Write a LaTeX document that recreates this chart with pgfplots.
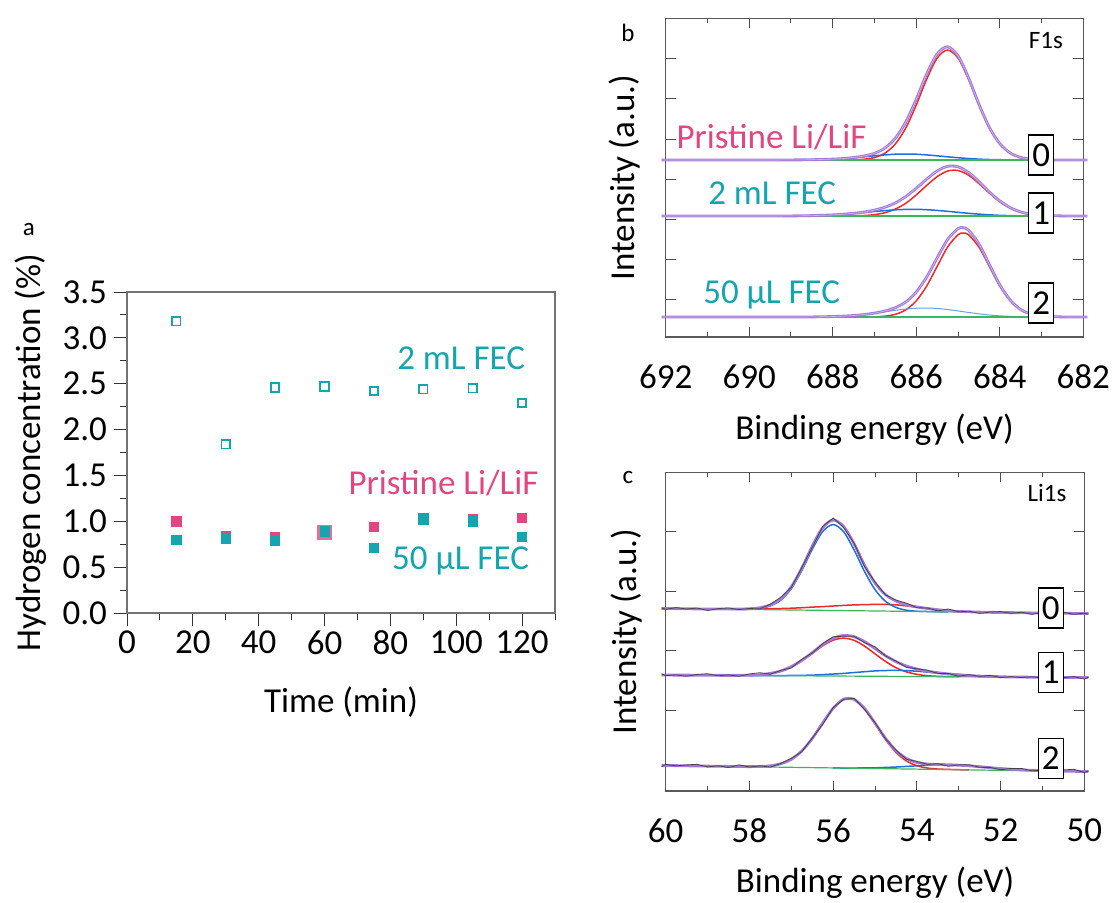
\documentclass[border=0pt]{standalone}
\usepackage{fontspec}
\setmainfont{Carlito}
\usepackage{pgfplots}
\pgfplotsset{compat=1.18}
\definecolor{tealc}{RGB}{20,165,175}
\definecolor{pinkc}{RGB}{225,70,130}
\definecolor{purp}{RGB}{165,120,215}
\definecolor{purcore}{RGB}{205,190,230}
\definecolor{redc}{RGB}{240,40,40}
\definecolor{bluec}{RGB}{30,110,220}
\definecolor{lblue}{RGB}{100,160,235}
\definecolor{greenc}{RGB}{60,180,100}
\definecolor{datac}{RGB}{70,70,70}
\newcommand{\mainfs}{\fontsize{17.5}{21}\selectfont}
\newcommand{\smallfs}{\fontsize{12.5}{15}\selectfont}
\pgfplotsset{
  every tick label/.append style={font=\mainfs},
  every axis label/.append style={font=\mainfs},
  /pgf/number format/assume math mode=true,
  xps/.style={scale only axis, x dir=reverse, tick align=inside, clip=false,
    axis line style={black!65, line width=0.6pt},
    tick style={black!70, line width=0.5pt},
    major tick length=5pt, minor tick length=2.5pt,
    yticklabels={}, xticklabel style={yshift=-8pt},
    xlabel={Binding energy (eV)}, ylabel={Intensity (a.u.)}},
}
\tikzset{boxn/.style={draw=black, line width=0.6pt, fill=white, minimum width=12.5pt, minimum height=20pt, inner sep=0pt, font=\mainfs}}
\begin{document}
\mainfs
\begin{tikzpicture}
\path[use as bounding box] (0pt,0pt) rectangle (556pt,-451pt);
% ---------------- panel a ----------------
\begin{axis}[at={(63.5pt,-306.5pt)}, anchor=south west, scale only axis,
  width=214pt, height=160.5pt,
  xmin=0, xmax=130, ymin=0, ymax=3.5,
  xtick={0,20,40,60,80,100,120}, minor xtick={10,30,50,70,90,110,130},
  ytick={0,0.5,1,1.5,2,2.5,3,3.5}, minor ytick={0.25,0.75,1.25,1.75,2.25,2.75,3.25},
  tick align=outside, tick pos=left,
  major tick length=6.5pt, minor tick length=3.3pt,
  axis line style={black!55, line width=0.6pt},
  tick style={black!80, line width=0.5pt},
  xticklabel style={yshift=3.5pt},
  yticklabel style={xshift=2.5pt, /pgf/number format/fixed, /pgf/number format/fixed zerofill, /pgf/number format/precision=1},
  xlabel={Time (min)}, ylabel={Hydrogen concentration (\%)},
  xlabel style={at={(axis description cs:0.5,-0.277)}, anchor=center},
  ylabel style={at={(axis description cs:-0.225,0.5)}, anchor=center},
  clip=false]
\addplot[only marks, mark=square*, mark size=2.3pt, color=pinkc] coordinates {(15,1.00)(30,0.84)(45,0.83)(75,0.94)(90,1.04)(105,1.03)(120,1.04)};
\addplot[only marks, mark=square*, mark size=3.5pt, color=pinkc!80] coordinates {(60,0.88)};
\addplot[only marks, mark=square*, mark size=2.3pt, color=tealc] coordinates {(15,0.80)(30,0.81)(45,0.79)(60,0.89)(75,0.71)(90,1.02)(105,1.00)(120,0.83)};
\addplot[only marks, mark=square, mark size=2.1pt, color=tealc, line width=0.9pt] coordinates {(15,3.18)(30,1.84)(45,2.46)(60,2.47)(75,2.42)(90,2.44)(105,2.45)(120,2.29)};
\node[anchor=base east, inner sep=0pt, text=tealc, font=\mainfs] at (axis cs:121,2.66) {2 mL FEC};
\node[anchor=base east, inner sep=0pt, text=pinkc, font=\mainfs] at (axis cs:125.1,1.293) {Pristine Li/LiF};
\node[anchor=base east, inner sep=0pt, text=tealc, font=\mainfs] at (axis cs:122.2,0.475) {50 µL FEC};
\end{axis}
% ---------------- panel b ----------------
\begin{axis}[xps, at={(332.85pt,-168.5pt)}, anchor=south west,
  width=208.8pt, height=159.35pt,
  xmin=682, xmax=692, ymin=-2, ymax=316.7,
  xtick={682,684,686,688,690,692}, minor xtick={683,685,687,689,691},
  ytick={35.7,75.7,115.7,156,195.7,236.7,276.7},
  xlabel style={at={(axis description cs:0.5,-0.292)}, anchor=center},
  ylabel style={at={(axis description cs:-0.0975,0.5)}, anchor=center}]
% curve 2 (50 uL)
\addplot[redc, line width=0.75pt, smooth] coordinates {(688,18)(687.5,18.0)(687.25,18.1)(687,18.2)(686.75,18.9)(686.5,20.7)(686.25,25.2)(686,34.2)(685.75,49.0)(685.5,68.6)(685.25,88.0)(685,100.3)(684.875,102.0)(684.75,100.3)(684.5,88.0)(684.25,68.6)(684,49.0)(683.75,34.2)(683.5,25.2)(683.25,20.7)(683,18.9)(682.5,18.1)(682.2,18)};
\addplot[lblue, line width=0.5pt, smooth] coordinates {(689.5,18)(689,18.0)(688.5,18.1)(688,18.5)(687.75,18.9)(687.5,19.5)(687.25,20.5)(687,21.7)(686.75,23.2)(686.5,24.7)(686.25,26.0)(686,26.8)(685.75,27.0)(685.5,26.5)(685.25,25.5)(685,24.1)(684.875,23.3)(684.75,22.6)(684.5,21.2)(684.25,20.0)(684,19.2)(683.75,18.7)(683.5,18.3)(683.25,18.2)(683,18.1)(682.5,18)};
\addplot[greenc, line width=0.6pt] coordinates {(689.5,18)(682.5,18)};
\addplot[purp, line width=1.4pt, smooth] coordinates {(692.1,18)(691,18)(690,18)(689,18.0)(688.5,18.1)(688,18.5)(687.75,18.9)(687.5,19.5)(687.25,20.5)(687,21.9)(686.75,24.0)(686.5,27.4)(686.25,33.1)(686,43.0)(685.75,58.0)(685.5,77.1)(685.25,95.5)(685,106.4)(684.875,107.3)(684.75,104.9)(684.5,91.2)(684.25,70.6)(684,50.2)(683.75,34.9)(683.5,25.5)(683.25,20.9)(683,18.9)(682.5,18.1)(681.9,18)};
\addplot[purcore, line width=0.3pt, smooth] coordinates {(692.1,18)(691,18)(690,18)(689,18.0)(688.5,18.1)(688,18.5)(687.75,18.9)(687.5,19.5)(687.25,20.5)(687,21.9)(686.75,24.0)(686.5,27.4)(686.25,33.1)(686,43.0)(685.75,58.0)(685.5,77.1)(685.25,95.5)(685,106.4)(684.875,107.3)(684.75,104.9)(684.5,91.2)(684.25,70.6)(684,50.2)(683.75,34.9)(683.5,25.5)(683.25,20.9)(683,18.9)(682.5,18.1)(681.9,18)};
% curve 1 (2 mL)
\addplot[redc, line width=0.75pt, smooth] coordinates {(689,119)(688.5,119)(688,119)(687.75,119.1)(687.5,119.2)(687.25,119.5)(687,120.4)(686.75,122.3)(686.5,126.0)(686.25,131.8)(686,140.1)(685.75,149.6)(685.5,158.4)(685.25,164.0)(685,164.5)(684.75,159.9)(684.5,151.5)(684.25,141.9)(684,133.3)(683.75,126.9)(683.5,122.9)(683.25,120.7)(683,119.7)(682.5,119.1)(682.2,119)};
\addplot[bluec, line width=0.75pt, smooth] coordinates {(690,119)(689,119.1)(688.5,119.4)(688,120.1)(687.75,120.7)(687.5,121.5)(687.25,122.5)(687,123.5)(686.75,124.4)(686.5,125.2)(686.25,125.6)(686,125.7)(685.75,125.3)(685.5,124.6)(685.25,123.7)(685,122.7)(684.75,121.7)(684.5,120.9)(684.25,120.2)(684,119.7)(683.75,119.4)(683.5,119.2)(683.25,119.1)(683,119.1)(682.5,119)};
\addplot[greenc, line width=0.6pt] coordinates {(689.5,119)(682.5,119)};
\addplot[purp, line width=1.4pt, smooth] coordinates {(692.1,119)(691,119)(690,119)(689,119.1)(688.5,119.4)(688,120.1)(687.75,120.8)(687.5,121.7)(687.25,123.0)(687,124.9)(686.75,127.8)(686.5,132.1)(686.25,138.5)(686,146.7)(685.75,155.9)(685.5,164.0)(685.25,168.7)(685,168.2)(684.75,162.6)(684.5,153.4)(684.25,143.1)(684,134.1)(683.75,127.3)(683.5,123.1)(683.25,120.8)(683,119.7)(682.5,119.1)(681.9,119)};
\addplot[purcore, line width=0.3pt, smooth] coordinates {(692.1,119)(691,119)(690,119)(689,119.1)(688.5,119.4)(688,120.1)(687.75,120.8)(687.5,121.7)(687.25,123.0)(687,124.9)(686.75,127.8)(686.5,132.1)(686.25,138.5)(686,146.7)(685.75,155.9)(685.5,164.0)(685.25,168.7)(685,168.2)(684.75,162.6)(684.5,153.4)(684.25,143.1)(684,134.1)(683.75,127.3)(683.5,123.1)(683.25,120.8)(683,119.7)(682.5,119.1)(681.9,119)};
% curve 0 (pristine)
\addplot[redc, line width=0.75pt, smooth] coordinates {(689,175)(688.5,175)(688,175)(687.75,175.1)(687.5,175.2)(687.25,175.8)(687,177.5)(686.75,181.9)(686.5,191.1)(686.25,207.1)(686,230.0)(685.75,255.9)(685.5,276.9)(685.25,285.0)(685,276.9)(684.75,255.9)(684.5,230.0)(684.25,207.1)(684,191.1)(683.75,181.9)(683.5,177.5)(683.25,175.8)(683,175.2)(682.5,175)};
\addplot[bluec, line width=0.75pt, smooth] coordinates {(689.5,175)(689,175.1)(688.5,175.3)(688,175.9)(687.75,176.5)(687.5,177.3)(687.25,178.2)(687,179.2)(686.75,180.1)(686.5,180.8)(686.25,181.0)(686,180.8)(685.75,180.1)(685.5,179.2)(685.25,178.2)(685,177.3)(684.75,176.5)(684.5,175.9)(684.25,175.5)(684,175.3)(683.75,175.1)(683.5,175.1)(683.25,175.0)(683,175)};
\addplot[greenc, line width=0.6pt] coordinates {(689.5,175)(682.5,175)};
\addplot[purp, line width=1.4pt, smooth] coordinates {(692.1,175)(691,175)(690,175)(689,175.1)(688.5,175.3)(688,175.9)(687.75,176.5)(687.5,177.5)(687.25,179.0)(687,181.7)(686.75,187.0)(686.5,196.9)(686.25,213.1)(686,235.8)(685.75,261.0)(685.5,281.1)(685.25,288.2)(685,279.2)(684.75,257.4)(684.5,230.9)(684.25,207.6)(684,191.4)(683.75,182.0)(683.5,177.6)(683.25,175.8)(683,175.2)(682.5,175)(681.9,175)};
\addplot[purcore, line width=0.3pt, smooth] coordinates {(692.1,175)(691,175)(690,175)(689,175.1)(688.5,175.3)(688,175.9)(687.75,176.5)(687.5,177.5)(687.25,179.0)(687,181.7)(686.75,187.0)(686.5,196.9)(686.25,213.1)(686,235.8)(685.75,261.0)(685.5,281.1)(685.25,288.2)(685,279.2)(684.75,257.4)(684.5,230.9)(684.25,207.6)(684,191.4)(683.75,182.0)(683.5,177.6)(683.25,175.8)(683,175.2)(682.5,175)(681.9,175)};
\node[boxn] at (axis cs:683.01,180) {0};
\node[boxn] at (axis cs:683.01,122) {1};
\node[boxn] at (axis cs:683.01,32) {2};
\node[anchor=base west, inner sep=0pt, text=pinkc, font=\mainfs] at (axis cs:691.75,186.7) {Pristine Li/LiF};
\node[anchor=base west, inner sep=0pt, text=tealc, font=\mainfs] at (axis cs:690.99,131) {2 mL FEC};
\node[anchor=base west, inner sep=0pt, text=tealc, font=\mainfs] at (axis cs:691.11,31.7) {50 µL FEC};
\node[anchor=base east, inner sep=0pt, font=\smallfs] at (axis cs:682.48,286.7) {F1s};
\end{axis}
% ---------------- panel c ----------------
\begin{axis}[xps, at={(332.85pt,-395.5pt)}, anchor=south west,
  width=209.3pt, height=159.35pt,
  xmin=50, xmax=60, ymin=0, ymax=318.7,
  xtick={50,52,54,56,58,60}, minor xtick={51,53,55,57,59},
  ytick={81,140.3,199.3,259.3},
  xlabel style={at={(axis description cs:0.5,-0.289)}, anchor=center},
  ylabel style={at={(axis description cs:-0.0932,0.5)}, anchor=center}]
% curve 2
\addplot[redc, line width=0.75pt, smooth] coordinates {(58.5,24.6)(58.25,24.5)(58,24.4)(57.75,24.6)(57.5,25.2)(57.25,27.3)(57,31.7)(56.75,40.0)(56.5,52.5)(56.25,68.0)(56,82.7)(55.75,91.8)(55.5,91.6)(55.25,82.3)(55,67.2)(54.75,51.5)(54.5,38.6)(54.25,30.1)(54,25.3)(53.75,23.0)(53.5,22.0)(53.25,21.6)(53,21.3)(52.75,21.2)};
\addplot[bluec, line width=0.75pt, smooth] coordinates {(56,23.1)(55.75,23.0)(55.5,23.0)(55.25,23.1)(55,23.2)(54.75,23.6)(54.5,24.0)(54.25,24.6)(54,25.2)(53.75,25.8)(53.5,26.1)(53.25,26.2)(53,25.8)(52.75,25.2)(52.5,24.3)(52.25,23.4)(52,22.5)(51.75,21.8)(51.5,21.1)(51.25,20.7)(51,20.3)(50.75,20.1)(50.5,19.8)};
\addplot[greenc, line width=0.6pt] coordinates {(59.5,25.2)(50.5,19.8)};
\addplot[purp, line width=1.4pt, smooth] coordinates {(60.1,25.7)(60,25.5)(59.75,25.4)(59.5,25.2)(59.25,25.1)(59,24.9)(58.75,24.8)(58.5,24.6)(58.25,24.5)(58,24.4)(57.75,24.6)(57.5,25.2)(57.25,27.3)(57,31.7)(56.75,40.0)(56.5,52.5)(56.25,68.0)(56,82.7)(55.75,91.8)(55.5,91.6)(55.25,82.5)(55,67.9)(54.75,52.7)(54.5,40.4)(54.25,32.6)(54,28.6)(53.75,27.0)(53.5,26.5)(53.25,26.3)(53,25.8)(52.75,25.2)(52.5,24.3)(52.25,23.4)(52,22.5)(51.75,21.8)(51.5,21.1)(51.25,20.7)(51,20.3)(50.75,20.1)(50.5,19.8)(50.25,19.7)(50,19.5)(49.9,19.4)};
\addplot[datac, line width=0.4pt] coordinates {(60.1,24.3)(60,26.7)(59.75,25.1)(59.5,26.1)(59.25,26.7)(59,24.1)(58.75,25.2)(58.5,23.5)(58.25,26.2)(58,24.0)(57.75,25.2)(57.5,23.9)(57.25,27.6)(57,32.7)(56.75,39.3)(56.5,53.0)(56.25,66.5)(56,83.5)(55.75,91.6)(55.5,92.7)(55.25,81.6)(55,68.3)(54.75,52.1)(54.5,40.9)(54.25,31.8)(54,29.6)(53.75,26.7)(53.5,27.4)(53.25,24.7)(53,26.2)(52.75,26.3)(52.5,23.7)(52.25,23.6)(52,21.3)(51.75,22.6)(51.5,22.6)(51.25,20.2)(51,20.9)(50.75,19.1)(50.5,21.1)(50.25,21.7)(50,18.6)(49.9,20.1)};
% curve 1
\addplot[redc, line width=0.75pt, smooth] coordinates {(58.5,115.6)(58.25,115.7)(58,115.8)(57.75,116.3)(57.5,117.6)(57.25,119.9)(57,124.1)(56.75,130.1)(56.5,137.5)(56.25,145.2)(56,150.8)(55.75,152.9)(55.5,150.7)(55.25,144.9)(55,137.2)(54.75,129.6)(54.5,123.4)(54.25,119.2)(54,116.7)(53.75,115.3)(53.5,114.7)(53.25,114.4)(53,114.3)};
\addplot[bluec, line width=0.75pt, smooth] coordinates {(58,115.5)(57.5,115.5)(57.25,115.4)(57,115.6)(56.75,115.7)(56.5,115.9)(56.25,116.4)(56,117.0)(55.75,117.6)(55.5,118.5)(55.25,119.3)(55,120.1)(54.75,120.5)(54.5,120.6)(54.25,120.4)(54,119.8)(53.75,118.9)(53.5,118.0)(53.25,117.0)(53,116.3)(52.75,115.5)(52.5,114.9)(52.25,114.6)(52,114.3)(51.75,114.0)(51.5,114.0)(51,113.8)};
\addplot[greenc, line width=0.6pt] coordinates {(59.5,115.9)(50.5,113.6)};
\addplot[purp, line width=1.4pt, smooth] coordinates {(60.1,116.1)(60,116.0)(59.75,115.9)(59.5,115.9)(59.25,115.8)(59,115.8)(58.75,115.7)(58.5,115.6)(58.25,115.7)(58,115.8)(57.75,116.3)(57.5,117.7)(57.25,120.0)(57,124.4)(56.75,130.6)(56.5,138.3)(56.25,146.5)(56,152.7)(55.75,155.6)(55.5,154.3)(55.25,149.4)(55,142.5)(54.75,135.4)(54.5,129.4)(54.25,125.0)(54,122.0)(53.75,119.8)(53.5,118.3)(53.25,117.1)(53,116.3)(52.75,115.5)(52.5,114.9)(52.25,114.6)(52,114.3)(51.75,114.0)(51.5,114.0)(51.25,113.8)(51,113.8)(50.75,113.7)(50.5,113.6)(50.25,113.6)(50,113.5)(49.9,113.4)};
\addplot[datac, line width=0.4pt] coordinates {(60.1,117.2)(60,115.4)(59.75,116.1)(59.5,114.7)(59.25,116.6)(59,117.3)(58.75,115.2)(58.5,116.2)(58.25,114.7)(58,117.1)(57.75,118.3)(57.5,116.8)(57.25,120.7)(57,123.0)(56.75,131.8)(56.5,138.0)(56.25,147.4)(56,154.3)(55.75,154.8)(55.5,154.7)(55.25,148.3)(55,144.2)(54.75,135.0)(54.5,130.0)(54.25,123.7)(54,122.3)(53.75,120.8)(53.5,117.6)(53.25,117.6)(53,114.8)(52.75,116.3)(52.5,114.7)(52.25,115.7)(52,113.4)(51.75,114.4)(51.5,113.4)(51.25,114.3)(51,113.0)(50.75,114.7)(50.5,113.3)(50.25,114.5)(50,111.9)(49.9,113.8)};
% curve 0
\addplot[redc, line width=0.75pt, smooth] coordinates {(59.5,182.3)(59.25,182.1)(59,182.1)(58.75,182.0)(58.5,182.0)(58.25,181.9)(58,182.0)(57.75,182.1)(57.5,182.3)(57.25,182.5)(57,182.8)(56.75,183.3)(56.5,183.9)(56.25,184.4)(56,185.0)(55.75,185.6)(55.5,186.1)(55.25,186.4)(55,186.6)(54.75,186.6)(54.5,186.2)(54.25,185.1)(54,183.8)(53.75,182.5)(53.5,181.3)(53.25,180.3)(53,179.6)(52.75,179.2)(52.5,178.9)(52.25,178.7)(52,178.5)};
\addplot[bluec, line width=0.75pt, smooth] coordinates {(58.75,181.9)(58.5,181.8)(58.25,181.7)(58,181.8)(57.75,182.6)(57.5,185.1)(57.25,190.9)(57,202.4)(56.75,220.3)(56.5,241.6)(56.25,259.5)(56,266.5)(55.75,259.3)(55.5,241.1)(55.25,219.5)(55,201.4)(54.75,189.7)(54.5,183.6)(54.25,180.8)(54,179.8)(53.75,179.5)(53.5,179.3)(53.25,179.1)};
\addplot[greenc, line width=0.6pt] coordinates {(59.5,182.3)(50.5,177.8)};
\addplot[purp, line width=1.4pt, smooth] coordinates {(60.1,182.6)(60,182.5)(59.75,182.4)(59.5,182.3)(59.25,182.1)(59,182.1)(58.75,182.0)(58.5,182.0)(58.25,182.0)(58,182.3)(57.75,183.3)(57.5,186.1)(57.25,192.3)(57,204.2)(56.75,222.7)(56.5,244.7)(56.25,263.3)(56,271.0)(55.75,264.5)(55.5,247.2)(55.25,225.8)(55,208.0)(54.75,196.4)(54.5,190.0)(54.25,186.3)(54,184.1)(53.75,182.6)(53.5,181.3)(53.25,180.3)(53,179.6)(52.75,179.2)(52.5,178.9)(52.25,178.7)(52,178.5)(51.75,178.4)(51.5,178.3)(51.25,178.1)(51,178.0)(50.75,177.9)(50.5,177.8)(50.25,177.6)(50,177.5)(49.9,177.4)};
\addplot[datac, line width=0.4pt] coordinates {(60.1,183.1)(60,181.7)(59.75,183.4)(59.5,182.0)(59.25,183.0)(59,180.5)(58.75,182.4)(58.5,183.1)(58.25,181.4)(58,182.5)(57.75,182.1)(57.5,186.9)(57.25,193.8)(57,203.7)(56.75,223.3)(56.5,243.7)(56.25,264.6)(56,273.0)(55.75,263.6)(55.5,247.9)(55.25,224.4)(55,209.2)(54.75,196.1)(54.5,190.9)(54.25,187.9)(54,183.3)(53.75,183.0)(53.5,180.2)(53.25,182.0)(53,179.2)(52.75,179.8)(52.5,177.6)(52.25,179.0)(52,179.5)(51.75,177.7)(51.5,178.8)(51.25,176.6)(51,178.8)(50.75,177.7)(50.5,178.9)(50.25,176.7)(50,177.9)(49.9,176.8)};
\node[boxn] at (axis cs:50.80,183) {0};
\node[boxn] at (axis cs:50.80,118.5) {1};
\node[boxn] at (axis cs:50.80,32.5) {2};
\node[anchor=base east, inner sep=0pt, font=\smallfs] at (axis cs:50.42,289.3) {Li1s};
\end{axis}
% panel letters
\node[font=\smallfs, inner sep=0pt] at (14.4pt,-115pt) {a};
\node[font=\smallfs, inner sep=0pt] at (314pt,-16.5pt) {b};
\node[font=\smallfs, inner sep=0pt] at (314pt,-239pt) {c};
\end{tikzpicture}
\end{document}
